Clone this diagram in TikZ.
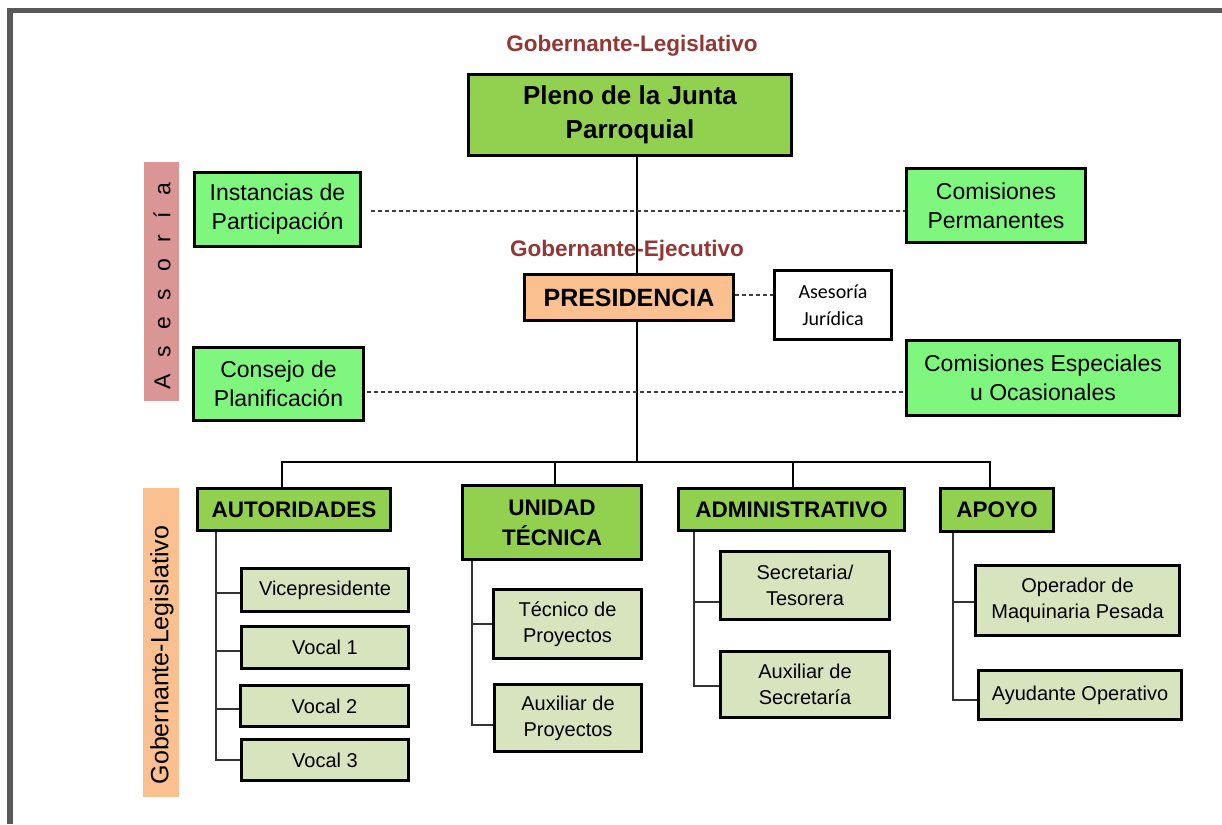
\documentclass[tikz,border=0pt]{standalone}
\usepackage{fontspec}
\setmainfont{Liberation Sans}
\newfontfamily\calib{Carlito}
\definecolor{darkred}{HTML}{943634}
\definecolor{hgreen}{HTML}{92D050}
\definecolor{bgreen}{HTML}{7FF77F}
\definecolor{lgreen}{HTML}{D7E4BD}
\definecolor{orng}{HTML}{FAC090}
\definecolor{pinkbar}{HTML}{D99694}
\definecolor{framegray}{HTML}{595959}
\begin{document}
\begin{tikzpicture}[x=1pt,y=-1pt,
  box/.style={draw=black, line width=2.6pt, inner sep=0pt, align=center},
  topbox/.style={box, fill=hgreen, font=\bfseries\fontsize{26}{34}\selectfont},
  presbox/.style={box, fill=orng, font=\bfseries\fontsize{25}{30}\selectfont},
  advbox/.style={box, fill=bgreen, font=\fontsize{23}{29}\selectfont},
  headbox/.style={box, fill=hgreen, font=\bfseries\fontsize{22.5}{30}\selectfont},
  subbox/.style={box, fill=lgreen, font=\fontsize{20}{26}\selectfont},
  jurbox/.style={box, fill=white, font=\calib\fontsize{20}{27}\selectfont},
  redtitle/.style={text=darkred, font=\bfseries\fontsize{22.5}{27}\selectfont, inner sep=0pt},
  bar/.style={inner sep=0pt},
  trunk/.style={draw=black, line width=2.4pt},
  stem/.style={draw=black!80, line width=1.6pt},
  dashline/.style={draw=black!75, line width=1.2pt, dash pattern=on 4pt off 3pt}
]
\useasboundingbox (0,0) rectangle (1222,824);
% frame
\draw[framegray, line width=5.5pt, line join=miter] (10,824) -- (10,10.5) -- (1222,10.5);

% side bars
\node[bar, fill=pinkbar, minimum width=35pt, minimum height=239pt] (asebar) at (161.5,281.5) {};
\node[rotate=90, font=\fontsize{23}{23}\selectfont, inner sep=0pt] (asetext) at (162,286)
  {A\hspace{16.6pt}s\hspace{16.6pt}e\hspace{16.6pt}s\hspace{16.6pt}o\hspace{16.6pt}r\hspace{16.6pt}í\hspace{16.6pt}a};
\node[bar, fill=orng, minimum width=36pt, minimum height=309pt] (glbar) at (161,642.5) {};
\node[rotate=90, font=\fontsize{25}{25}\selectfont, inner sep=0pt] (gltext) at (162,655) {Gobernante-Legislativo};

% titles
\node[redtitle] (t1) at (632,46) {Gobernante-Legislativo};
\node[redtitle] (t2) at (627,251) {Gobernante-Ejecutivo};

% top boxes
\node[topbox, minimum width=323pt, minimum height=81pt] (pleno) at (630,115) {Pleno de la Junta\\Parroquial};
\node[presbox, minimum width=209pt, minimum height=46pt] (pres) at (629,297.5) {PRESIDENCIA};
\node[jurbox, minimum width=117pt, minimum height=69pt] (asj) at (833,305) {Asesoría\\Jurídica};

\node[advbox, minimum width=166pt, minimum height=74pt] (inst) at (277.5,209.5) {Instancias de\\Participación};
\node[advbox, minimum width=179pt, minimum height=74pt] (cperm) at (996,205.5) {Comisiones\\Permanentes};
\node[advbox, minimum width=170pt, minimum height=73pt] (cons) at (278.5,384) {Consejo de\\Planificación};
\node[advbox, minimum width=273pt, minimum height=75pt] (cesp) at (1043,378) {Comisiones Especiales\\u Ocasionales};

% headers
\node[headbox, minimum width=193pt, minimum height=42pt] (aut) at (294,509.5) {AUTORIDADES};
\node[headbox, minimum width=179pt, minimum height=74pt] (uni) at (552,522.5) {UNIDAD\\TÉCNICA};
\node[headbox, minimum width=226pt, minimum height=42pt] (adm) at (791.5,509.5) {ADMINISTRATIVO};
\node[headbox, minimum width=113pt, minimum height=43pt] (apo) at (997,510) {APOYO};

% sub items
\node[subbox, minimum width=167pt, minimum height=43pt] (vice) at (325,590) {Vicepresidente};
\node[subbox, minimum width=167pt, minimum height=42pt] (v1) at (325,647.5) {Vocal 1};
\node[subbox, minimum width=168pt, minimum height=41pt] (v2) at (324.5,706) {Vocal 2};
\node[subbox, minimum width=167pt, minimum height=41pt] (v3) at (325,760) {Vocal 3};
\node[subbox, minimum width=148pt, minimum height=69pt] (tec) at (567.5,624) {Técnico de\\Proyectos};
\node[subbox, minimum width=147pt, minimum height=67pt] (auxp) at (568,718) {Auxiliar de\\Proyectos};
\node[subbox, minimum width=169pt, minimum height=68pt] (sec) at (805,585.5) {Secretaria/\\Tesorera};
\node[subbox, minimum width=169pt, minimum height=66pt] (auxs) at (805,684.5) {Auxiliar de\\Secretaría};
\node[subbox, minimum width=204pt, minimum height=70pt] (ope) at (1077.5,600.5) {Operador de\\Maquinaria Pesada};
\node[subbox, minimum width=203pt, minimum height=49pt] (ayu) at (1080,695) {Ayudante Operativo};

% spine and bus
\coordinate (spine) at (637,0);
\coordinate (busL) at (282,462);
\coordinate (busR) at (990,462);
\draw[trunk] (pleno.south -| spine) -- (pres.north -| spine);
\draw[trunk] (pres.south -| spine) -- (spine |- busL);
\draw[trunk] (aut.north -| busL) -- (busL) -- (busR) -- (apo.north -| busR);
\draw[trunk] (uni.north -| 555,0) -- (555,462);
\draw[trunk] (adm.north -| 793,0) -- (793,462);

% dashed advisory links
\draw[dashline] (371,211) -- (cperm.west |- 371,211);
\draw[dashline] (367,392) -- (cesp.west |- 367,392);
\draw[dashline] (pres.east |- 0,295) -- (asj.west |- 0,295);

% stems
\coordinate (sa) at (216,0);
\draw[stem] (aut.south -| sa) -- (sa |- v3.west) -- (v3.west);
\draw[stem] (sa |- 0,593) -- (vice.west |- 0,593);
\draw[stem] (sa |- 0,651) -- (v1.west |- 0,651);
\draw[stem] (sa |- 0,709) -- (v2.west |- 0,709);

\coordinate (su) at (472,0);
\draw[stem] (uni.south -| su) -- (su |- 0,725) -- (auxp.west |- 0,725);
\draw[stem] (su |- tec.west) -- (tec.west);

\coordinate (sd) at (694,0);
\draw[stem] (adm.south -| sd) -- (sd |- 0,686) -- (auxs.west |- 0,686);
\draw[stem] (sd |- 0,602) -- (sec.west |- 0,602);

\coordinate (sp) at (953,0);
\draw[stem] (apo.south -| sp) -- (sp |- 0,700) -- (ayu.west |- 0,700);
\draw[stem] (sp |- 0,602) -- (ope.west |- 0,602);
\end{tikzpicture}
\end{document}
